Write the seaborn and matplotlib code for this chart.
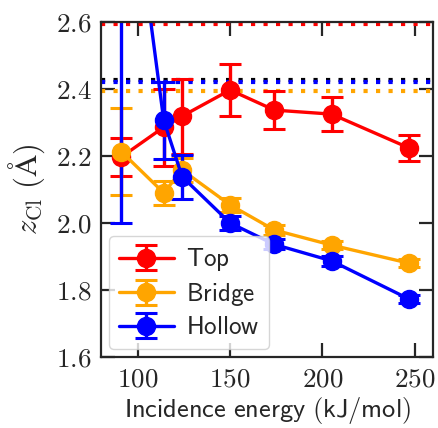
import numpy as np
import pandas as pd
import matplotlib
matplotlib.use("Agg")
import matplotlib.pyplot as plt
import seaborn as sns
from matplotlib.ticker import FuncFormatter, MultipleLocator

energy = [91, 114, 124, 150, 174, 205, 247]

top_z = [2.197, 2.286, 2.319, 2.397, 2.337, 2.325, 2.224]
top_err = [0.058, 0.115, 0.112, 0.078, 0.057, 0.05, 0.04]

bridge_z = [2.213, 2.09, 2.158, 2.054, 1.979, 1.934, 1.88]
bridge_err = [0.13, 0.035, 0.035, 0.02, 0.015, 0.012, 0.012]

hollow_z = [3.27, 2.307, 2.138, 2.0, 1.936, 1.887, 1.773]
hollow_err = [1.27, 0.115, 0.065, 0.02, 0.015, 0.015, 0.012]

ref_levels = [2.595, 2.427, 2.421, 2.395]
ref_colors = ["red", "black", "blue", "orange"]

series = [("Top", top_z, top_err, "red"),
          ("Bridge", bridge_z, bridge_err, "orange"),
          ("Hollow", hollow_z, hollow_err, "blue")]

sns.set_style("ticks")
plt.rcParams["mathtext.fontset"] = "cm"
plt.rcParams["font.family"] = ["DejaVu Sans"]

fig = plt.figure(figsize=(4.38, 4.28), dpi=100)
ax = fig.add_axes([0.2306, 0.1659, 0.758, 0.7827])

for name, z, err, col in series:
    df = pd.DataFrame({"energy": energy, "z": z})
    ax.errorbar(df["energy"], df["z"], yerr=err, color=col, marker="o",
                markersize=13, linewidth=2.4, elinewidth=2.4, capsize=8,
                capthick=2.2, label=r"$\mathsf{%s}$" % name)

for lvl, col in zip(ref_levels, ref_colors):
    ax.axhline(lvl, color=col, linestyle=(0, (1, 2)), linewidth=3, zorder=1)

ax.set_xlim(80, 260)
ax.set_ylim(1.6, 2.6)
ax.xaxis.set_major_locator(MultipleLocator(50))
ax.yaxis.set_major_locator(MultipleLocator(0.2))
ax.xaxis.set_major_formatter(FuncFormatter(lambda v, p: r"$%d$" % v))
ax.yaxis.set_major_formatter(FuncFormatter(lambda v, p: r"$%.1f$" % v))
ax.tick_params(direction="in", top=True, right=True, length=10, width=1.6,
               labelsize=19.5, pad=7)
for s in ax.spines.values():
    s.set_linewidth(1.6)

ax.set_xlabel(r"$\mathsf{Incidence\ energy\ (kJ/mol)}$", fontsize=19, labelpad=2)
ax.set_ylabel(r"$z_{\rm Cl}\ (\mathrm{\AA})$", fontsize=22, labelpad=6)

leg = ax.legend(loc="lower left", fontsize=18, handlelength=2.2,
                borderaxespad=0.3, framealpha=0.8, edgecolor="0.8",
                fancybox=True, labelspacing=0.3, handletextpad=0.5)

fig.savefig("out.png", dpi=100)
